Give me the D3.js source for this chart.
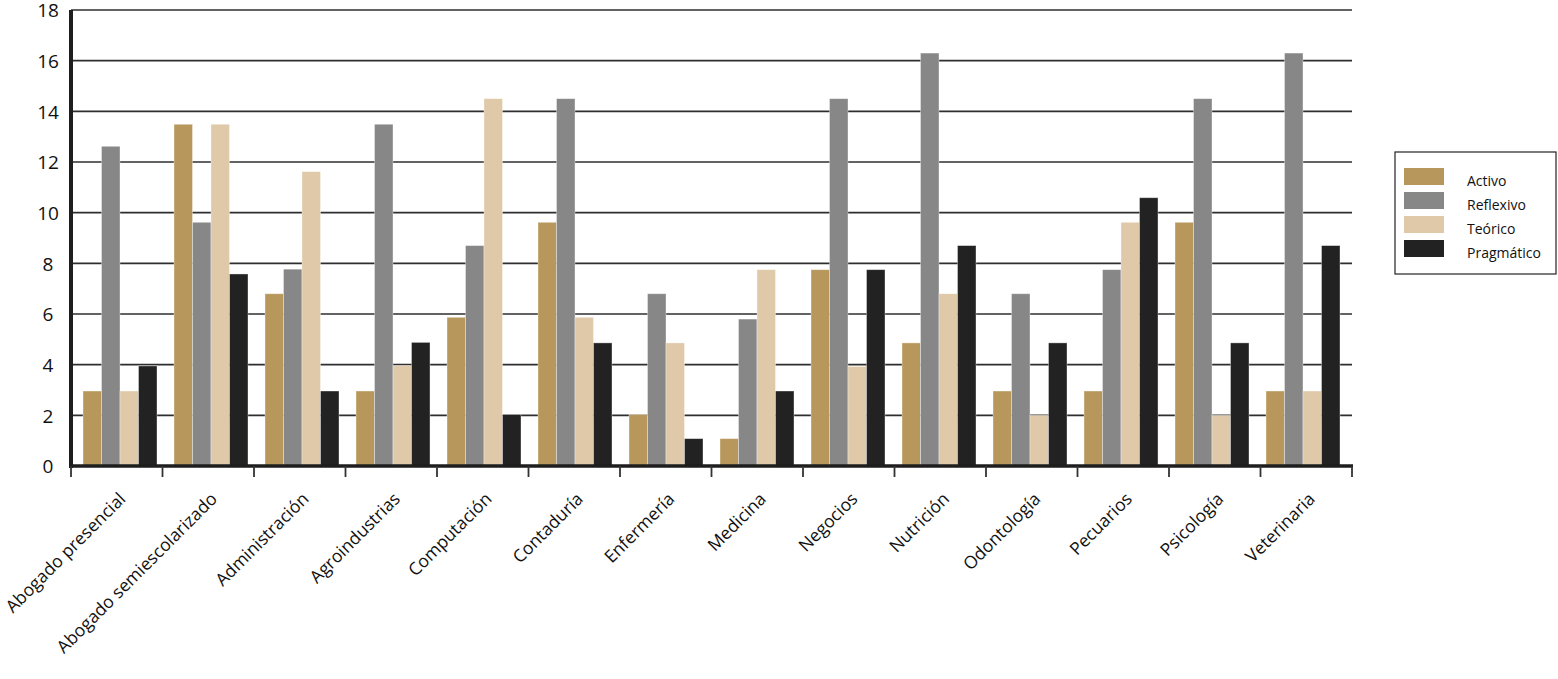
<!DOCTYPE html>
<html>
<head>
<meta charset="utf-8">
<script src="https://cdn.jsdelivr.net/npm/d3@7"></script>
<style>
  body { margin: 0; background: #fff; }
  svg { display: block; font-family: 'Open Sans', 'Noto Sans', sans-serif; }
</style>
</head>
<body>
<svg></svg>
<script>
let categories = ['Abogado presencial', 'Abogado semiescolarizado', 'Administración', 'Agroindustrias',
    'Computación', 'Contaduría', 'Enfermería', 'Medicina', 'Negocios', 'Nutrición',
    'Odontología', 'Pecuarios', 'Psicología', 'Veterinaria']

let seriesNames = ['Activo', 'Reflexivo', 'Teórico', 'Pragmático']

let activo     = [2.96, 13.49, 6.8, 2.96, 5.87, 9.62, 2.03, 1.08, 7.75, 4.86, 2.96, 2.96, 9.62, 2.96]
let reflexivo  = [12.62, 9.62, 7.77, 13.49, 8.7, 14.5, 6.8, 5.8, 14.5, 16.3, 6.8, 7.75, 14.5, 16.3]
let teorico    = [2.96, 13.49, 11.62, 3.96, 14.5, 5.87, 4.86, 7.75, 3.93, 6.8, 2.0, 9.62, 2.0, 2.96]
let pragmatico = [3.95, 7.58, 2.96, 4.88, 2.03, 4.86, 1.08, 2.96, 7.75, 8.7, 4.86, 10.59, 4.86, 8.7]

let yTicks = [0, 2, 4, 6, 8, 10, 12, 14, 16, 18]

let colors = ['#b8975c', '#888787', '#dfc9a8', '#222222']

let width = 1558
let height = 679
let plotLeft = 71
let plotRight = 1352
let plotBottom = 466
let plotTop = 10

let svg = d3.select('svg')
    .attr('width', width)
    .attr('height', height)

let allSeries = [activo, reflexivo, teorico, pragmatico]

// flat table: one row per bar
let rows = []
categories.forEach((cat, i) => {
    seriesNames.forEach((s, j) => {
        rows.push({ cat: cat, series: s, value: allSeries[j][i] })
    })
})

let yScale = d3.scaleLinear()
    .domain([0, 18])
    .range([plotBottom, plotTop])

// ticks / labels sit on this one
let xAxisScale = d3.scaleBand()
    .domain(categories)
    .range([plotLeft, plotRight])

// bar groups are spaced a touch tighter than the ticks in the original
let xGroup = d3.scaleBand()
    .domain(categories)
    .range([83, 83 + 91 * categories.length])

let xInner = d3.scaleBand()
    .domain(seriesNames)
    .range([0, 74])

let colorScale = d3.scaleOrdinal()
    .domain(seriesNames)
    .range(colors)

// gridlines
svg.append('g')
    .selectAll('line')
    .data(yTicks.filter(d => d > 0))
    .enter()
    .append('line')
    .attr('x1', plotLeft)
    .attr('x2', plotRight)
    .attr('y1', d => yScale(d))
    .attr('y2', d => yScale(d))
    .attr('stroke', '#2e2e2e')
    .attr('stroke-width', 1.7)

// bars
svg.append('g')
    .selectAll('rect')
    .data(rows)
    .enter()
    .append('rect')
    .attr('x', d => xGroup(d.cat) + xInner(d.series))
    .attr('width', xInner.bandwidth())
    .attr('y', d => yScale(d.value))
    .attr('height', d => plotBottom - yScale(d.value))
    .attr('fill', d => colorScale(d.series))
    .attr('stroke', 'rgba(255,255,255,0.45)')
    .attr('stroke-width', 0.8)

// y labels
svg.append('g')
    .selectAll('text')
    .data(yTicks)
    .enter()
    .append('text')
    .attr('x', 48)
    .attr('y', d => yScale(d))
    .attr('dy', '0.38em')
    .attr('text-anchor', 'middle')
    .attr('font-size', 19)
    .attr('fill', '#111')
    .text(d => d)

// axis lines
svg.append('line')
    .attr('x1', plotLeft).attr('x2', plotLeft)
    .attr('y1', plotTop).attr('y2', plotBottom + 2)
    .attr('stroke', '#1e1e1e')
    .attr('stroke-width', 4)

svg.append('line')
    .attr('x1', plotLeft - 2).attr('x2', plotRight + 1)
    .attr('y1', plotBottom).attr('y2', plotBottom)
    .attr('stroke', '#1e1e1e')
    .attr('stroke-width', 3.5)

// category boundary ticks
let tickPos = categories.map(c => xAxisScale(c)).concat([plotRight])
svg.append('g')
    .selectAll('line')
    .data(tickPos)
    .enter()
    .append('line')
    .attr('x1', d => d).attr('x2', d => d)
    .attr('y1', plotBottom).attr('y2', plotBottom + 11)
    .attr('stroke', '#333')
    .attr('stroke-width', 1.8)

// category labels
svg.append('g')
    .selectAll('text')
    .data(categories)
    .enter()
    .append('text')
    .attr('transform', d => 'translate(' + (xAxisScale(d) + xAxisScale.bandwidth() / 2 + 10) + ',' + 500 + ') rotate(-45)')
    .attr('text-anchor', 'end')
    .attr('font-size', 17.5)
    .attr('fill', '#111')
    .text(d => d)

// legend
let legend = svg.append('g')

legend.append('rect')
    .attr('x', 1395)
    .attr('y', 152)
    .attr('width', 161)
    .attr('height', 122)
    .attr('fill', '#fff')
    .attr('stroke', '#222')
    .attr('stroke-width', 1.2)

let legendY = d3.scaleBand()
    .domain(seriesNames)
    .range([168, 264])

legend.selectAll('.swatch')
    .data(seriesNames)
    .enter()
    .append('rect')
    .attr('class', 'swatch')
    .attr('x', 1404)
    .attr('y', d => legendY(d))
    .attr('width', 40)
    .attr('height', 17)
    .attr('fill', d => colorScale(d))

legend.selectAll('.ltext')
    .data(seriesNames)
    .enter()
    .append('text')
    .attr('class', 'ltext')
    .attr('x', 1467)
    .attr('y', d => legendY(d) + 18)
    .attr('font-size', 14)
    .attr('fill', '#111')
    .text(d => d)
</script>
</body>
</html>
